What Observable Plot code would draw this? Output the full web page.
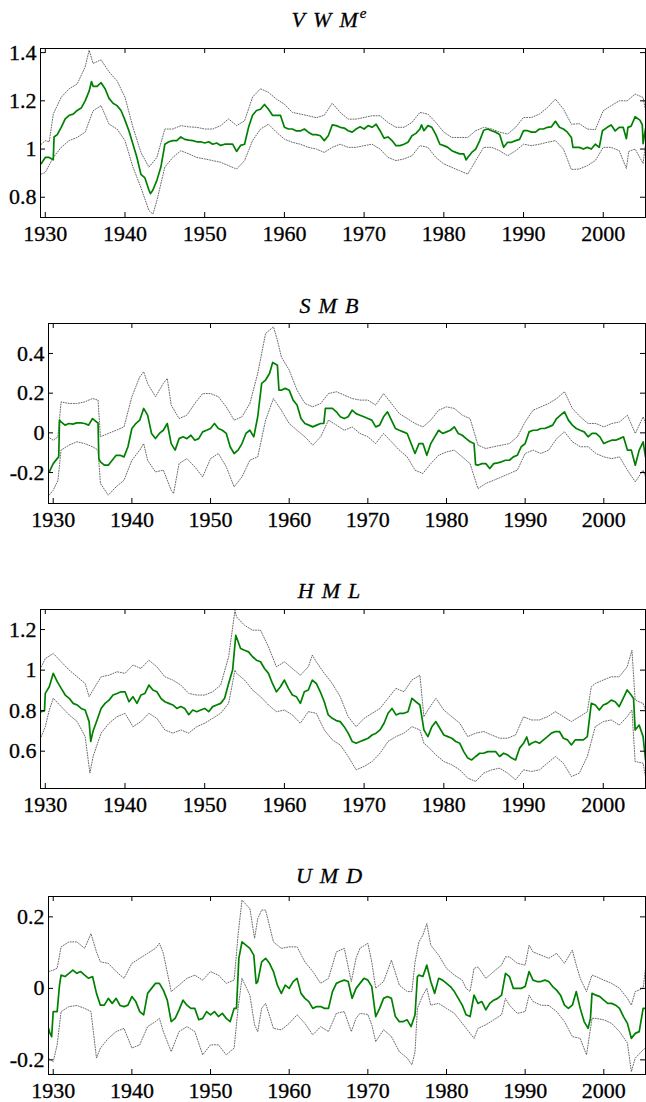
<!DOCTYPE html>
<html>
<head>
<meta charset="utf-8">
<script src="https://cdn.jsdelivr.net/npm/d3@7"></script>
<script src="https://cdn.jsdelivr.net/npm/@observablehq/plot@0.6"></script>
<style>
  html, body { margin: 0; padding: 0; background: #fff; }
  #chart svg { display: block; overflow: visible; }
  #chart svg text { font-family: "Liberation Serif", "Times New Roman", "DejaVu Serif", serif !important; stroke: #000; stroke-width: 0.3px; }
</style>
</head>
<body>
<div id="chart"></div>
<script>
// ---------- data ----------
const xTicks = [1930, 1940, 1950, 1960, 1970, 1980, 1990, 2000];
const titles = ["VWM", "SMB", "HML", "UMD"];
const titleSups = ["e", "", "", ""];
const vwmTicks = [0.8, 1, 1.2, 1.4];
const smbTicks = [-0.2, 0, 0.2, 0.4];
const hmlTicks = [0.6, 0.8, 1, 1.2];
const umdTicks = [-0.2, 0, 0.2];

const vwmLine = [[1929.5,0.94],[1930,0.965],[1930.5,0.965],[1931,0.955],[1931.1,1.05],[1931.5,1.06],[1932,1.09],[1932.5,1.125],[1933,1.14],[1933.5,1.145],[1934,1.16],[1934.5,1.17],[1935,1.2],[1935.5,1.24],[1935.8,1.28],[1936,1.26],[1936.5,1.26],[1937,1.275],[1937.5,1.25],[1938,1.21],[1938.5,1.19],[1939,1.18],[1939.5,1.16],[1940,1.12],[1940.5,1.075],[1941,1.02],[1941.5,0.965],[1942,0.895],[1942.5,0.88],[1943,0.83],[1943.2,0.815],[1943.5,0.83],[1944,0.87],[1944.5,0.925],[1944.9,1.0],[1945,1.02],[1945.5,1.03],[1946,1.035],[1946.5,1.035],[1947,1.05],[1947.5,1.04],[1948,1.037],[1948.5,1.035],[1949,1.03],[1949.5,1.03],[1950,1.025],[1950.5,1.03],[1951,1.02],[1951.5,1.025],[1952,1.015],[1952.5,1.02],[1953,1.02],[1953.5,1.02],[1954,0.99],[1954.5,1.015],[1955,1.02],[1955.5,1.09],[1956,1.14],[1956.5,1.16],[1957,1.165],[1957.5,1.185],[1958,1.165],[1958.5,1.14],[1959,1.14],[1959.5,1.14],[1960,1.09],[1960.5,1.083],[1961,1.083],[1961.5,1.075],[1962,1.075],[1962.5,1.083],[1963,1.07],[1963.5,1.06],[1964,1.06],[1964.5,1.055],[1965,1.035],[1965.5,1.055],[1966,1.1],[1966.5,1.097],[1967,1.09],[1967.5,1.087],[1968,1.076],[1968.5,1.07],[1969,1.083],[1969.5,1.092],[1970,1.083],[1970.5,1.097],[1971,1.09],[1971.5,1.103],[1972,1.076],[1972.5,1.045],[1973,1.05],[1973.5,1.035],[1974,1.014],[1974.5,1.014],[1975,1.02],[1975.5,1.028],[1976,1.055],[1976.5,1.065],[1977,1.083],[1977.2,1.1],[1977.5,1.076],[1978,1.097],[1978.5,1.09],[1979,1.06],[1979.5,1.02],[1980,1.014],[1980.5,1.007],[1981,0.993],[1981.5,0.986],[1982,0.98],[1982.5,0.98],[1982.8,0.955],[1983,0.965],[1983.5,0.986],[1984,1.0],[1984.5,1.035],[1985,1.078],[1985.5,1.083],[1986,1.076],[1986.5,1.07],[1987,1.06],[1987.5,1.007],[1988,1.028],[1988.5,1.028],[1989,1.035],[1989.5,1.04],[1990,1.076],[1990.5,1.076],[1991,1.07],[1991.5,1.07],[1992,1.083],[1992.5,1.083],[1993,1.09],[1993.5,1.092],[1994,1.115],[1994.5,1.09],[1995,1.083],[1995.5,1.07],[1996,1.048],[1996.2,1.007],[1996.5,1.007],[1997,1.007],[1997.5,1.0],[1998,1.007],[1998.5,1.0],[1999,1.02],[1999.5,1.007],[1999.9,1.076],[2000.5,1.09],[2001,1.1],[2001.5,1.075],[2002,1.09],[2002.5,1.09],[2002.9,1.043],[2003.1,1.09],[2003.5,1.095],[2004,1.134],[2004.6,1.12],[2004.9,1.1],[2005,1.022],[2005.3,1.084]];
const vwmUpper = [[1929.5,1.02],[1930,1.035],[1930.5,1.03],[1931,1.145],[1932,1.215],[1933,1.25],[1934,1.27],[1935,1.34],[1935.5,1.41],[1936,1.355],[1937,1.37],[1938,1.32],[1939,1.283],[1940,1.215],[1941,1.09],[1942,0.986],[1943,0.925],[1944,0.965],[1945,1.083],[1946,1.083],[1947,1.097],[1948,1.092],[1949,1.09],[1950,1.083],[1951,1.083],[1952,1.097],[1953,1.125],[1954,1.097],[1955,1.117],[1956,1.215],[1957,1.25],[1958,1.235],[1959,1.207],[1960,1.186],[1961,1.152],[1962,1.145],[1963,1.138],[1964,1.13],[1965,1.14],[1966,1.19],[1967,1.152],[1968,1.124],[1969,1.124],[1970,1.131],[1971,1.138],[1972,1.138],[1973,1.11],[1974,1.09],[1975,1.09],[1976,1.11],[1977,1.152],[1978,1.145],[1979,1.11],[1980,1.07],[1981,1.048],[1982,1.048],[1983,1.048],[1984,1.076],[1985,1.09],[1986,1.083],[1987,1.07],[1988,1.062],[1989,1.09],[1990,1.131],[1991,1.131],[1992,1.145],[1993,1.172],[1994,1.207],[1995,1.166],[1996,1.103],[1997,1.105],[1998,1.083],[1999,1.08],[2000,1.159],[2001,1.18],[2002,1.2],[2003,1.2],[2004,1.228],[2005,1.214],[2005.3,1.16]];
const vwmLower = [[1929.5,0.896],[1930,0.903],[1931,0.965],[1932,1.007],[1933,1.035],[1934,1.048],[1935,1.07],[1936,1.159],[1937,1.18],[1938,1.103],[1939,1.083],[1940,1.035],[1941,0.925],[1942,0.84],[1943,0.745],[1943.5,0.73],[1944,0.786],[1945,0.925],[1946,0.965],[1947,0.993],[1948,0.98],[1949,0.965],[1950,0.959],[1951,0.952],[1952,0.945],[1953,0.931],[1954,0.917],[1955,0.952],[1956,1.035],[1957,1.083],[1958,1.103],[1959,1.07],[1960,1.041],[1961,1.028],[1962,1.02],[1963,1.007],[1964,1.0],[1965,0.986],[1966,1.007],[1967,1.02],[1968,1.007],[1969,1.007],[1970,1.014],[1971,1.02],[1972,1.0],[1973,0.965],[1974,0.952],[1975,0.959],[1976,0.972],[1977,1.014],[1978,1.007],[1979,0.965],[1980,0.938],[1981,0.924],[1982,0.91],[1983,0.896],[1984,0.952],[1985,1.007],[1986,1.007],[1987,0.993],[1988,0.972],[1989,0.993],[1990,1.02],[1991,1.014],[1992,1.02],[1993,1.028],[1994,1.035],[1995,1.0],[1996,0.915],[1997,0.917],[1998,0.931],[1999,0.952],[2000,1.007],[2001,1.007],[2002,0.993],[2002.9,0.92],[2003.2,0.99],[2004,1.0],[2005,0.94],[2005.3,1.02]];

const smbLine = [[1929.3,-0.197],[1929.5,-0.197],[1930,-0.155],[1930.5,-0.13],[1930.7,-0.12],[1930.8,0.064],[1931,0.055],[1931.5,0.039],[1932,0.047],[1932.5,0.044],[1933,0.05],[1933.5,0.05],[1934,0.047],[1934.5,0.039],[1935,0.072],[1935.5,0.055],[1935.7,0.05],[1935.8,-0.13],[1936,-0.146],[1936.5,-0.163],[1937,-0.163],[1937.5,-0.138],[1938,-0.113],[1938.5,-0.113],[1939,-0.121],[1939.5,-0.07],[1940,0.022],[1940.5,0.047],[1941,0.064],[1941.5,0.123],[1942,0.089],[1942.5,-0.003],[1943,-0.029],[1943.5,-0.003],[1944,0.013],[1944.5,0.047],[1945,-0.054],[1945.5,-0.087],[1946,-0.029],[1946.5,-0.02],[1947,-0.029],[1947.5,-0.012],[1948,-0.037],[1948.5,-0.029],[1949,0.005],[1949.5,0.013],[1950,0.022],[1950.5,0.047],[1951,0.022],[1951.5,0.013],[1952,-0.003],[1952.5,-0.07],[1953,-0.104],[1953.5,-0.087],[1954,-0.054],[1954.5,-0.003],[1955,0.013],[1955.5,-0.02],[1956,0.081],[1956.5,0.249],[1957,0.266],[1957.5,0.299],[1957.9,0.355],[1958.5,0.341],[1958.7,0.215],[1959,0.215],[1959.5,0.224],[1960,0.215],[1960.5,0.165],[1961,0.14],[1961.5,0.072],[1962,0.047],[1962.5,0.039],[1963,0.03],[1963.5,0.039],[1964,0.047],[1964.4,0.047],[1964.6,0.123],[1965,0.123],[1965.5,0.123],[1966,0.106],[1966.5,0.081],[1967,0.072],[1967.5,0.081],[1968,0.114],[1968.5,0.097],[1969,0.089],[1969.5,0.081],[1970,0.072],[1970.5,0.064],[1971,0.03],[1971.5,0.039],[1972,0.081],[1972.5,0.106],[1973,0.064],[1973.5,0.022],[1974,0.013],[1974.5,0.005],[1975,-0.003],[1975.5,-0.054],[1976,-0.104],[1976.5,-0.054],[1977,-0.054],[1977.5,-0.113],[1978,-0.054],[1978.5,-0.02],[1979,0.013],[1979.5,-0.003],[1980,0.005],[1980.5,0.013],[1981,0.03],[1981.5,-0.003],[1982,-0.012],[1982.5,-0.029],[1983,-0.045],[1983.5,-0.054],[1983.7,-0.16],[1984,-0.163],[1984.5,-0.155],[1985,-0.155],[1985.5,-0.18],[1986,-0.155],[1986.5,-0.151],[1987,-0.146],[1987.5,-0.138],[1988,-0.138],[1988.5,-0.121],[1989,-0.113],[1989.5,-0.07],[1990,-0.054],[1990.5,0.005],[1991,0.013],[1991.5,0.013],[1992,0.022],[1992.5,0.022],[1993,0.03],[1993.5,0.039],[1994,0.072],[1994.5,0.089],[1995,0.106],[1995.5,0.064],[1996,0.039],[1996.5,0.022],[1997,0.013],[1997.5,0.005],[1998,-0.02],[1998.5,-0.003],[1999,-0.003],[1999.5,-0.02],[2000,-0.054],[2000.5,-0.045],[2001,-0.037],[2001.5,-0.037],[2002,-0.029],[2002.5,-0.02],[2003,-0.087],[2003.5,-0.087],[2004,-0.163],[2004.5,-0.087],[2005,-0.045],[2005.3,-0.121]];
const smbUpper = [[1929.3,-0.02],[1930,-0.037],[1930.6,-0.02],[1931,0.156],[1932,0.148],[1933,0.148],[1934,0.156],[1935,0.173],[1935.7,0.165],[1936,-0.02],[1937,-0.003],[1938,0.013],[1939,0.03],[1940,0.182],[1941,0.282],[1941.5,0.308],[1942,0.249],[1943,0.182],[1944,0.249],[1944.5,0.274],[1945,0.14],[1946,0.072],[1947,0.089],[1948,0.148],[1949,0.198],[1950,0.198],[1951,0.182],[1952,0.131],[1953,0.064],[1954,0.081],[1955,0.148],[1956,0.299],[1957,0.501],[1958,0.534],[1958.5,0.467],[1959,0.383],[1960,0.316],[1961,0.215],[1962,0.148],[1963,0.131],[1964,0.148],[1965,0.198],[1966,0.207],[1967,0.19],[1968,0.173],[1969,0.165],[1970,0.165],[1971,0.14],[1972,0.198],[1973,0.148],[1974,0.097],[1975,0.072],[1976,0.047],[1977,0.03],[1978,0.064],[1979,0.114],[1980,0.131],[1981,0.123],[1982,0.089],[1983,0.072],[1984,-0.062],[1985,-0.079],[1986,-0.07],[1987,-0.062],[1988,-0.054],[1989,-0.02],[1990,0.055],[1991,0.114],[1992,0.131],[1993,0.148],[1994,0.173],[1995,0.207],[1996,0.123],[1997,0.081],[1998,0.047],[1999,0.047],[2000,0.03],[2001,0.047],[2002,0.055],[2003,0.089],[2004,-0.003],[2005,0.081],[2005.3,0.047]];
const smbLower = [[1929.3,-0.323],[1930,-0.289],[1930.6,-0.239],[1931,-0.087],[1932,-0.062],[1933,-0.045],[1934,-0.054],[1935,-0.07],[1935.7,-0.087],[1936,-0.255],[1937,-0.314],[1938,-0.272],[1939,-0.239],[1940,-0.138],[1941,-0.087],[1941.5,-0.054],[1942,-0.138],[1943,-0.197],[1944,-0.188],[1945,-0.289],[1945.3,-0.306],[1946,-0.155],[1947,-0.13],[1948,-0.171],[1949,-0.222],[1950,-0.13],[1951,-0.104],[1952,-0.171],[1953,-0.272],[1954,-0.222],[1955,-0.138],[1956,-0.121],[1957,0.064],[1958,0.173],[1959,0.114],[1960,0.047],[1961,0.013],[1962,-0.02],[1963,-0.062],[1964,-0.02],[1965,0.064],[1966,0.039],[1967,0.013],[1968,0.03],[1969,-0.003],[1970,-0.02],[1971,-0.054],[1972,-0.003],[1973,-0.045],[1974,-0.087],[1975,-0.121],[1976,-0.188],[1977,-0.205],[1978,-0.155],[1979,-0.113],[1980,-0.096],[1981,-0.087],[1982,-0.121],[1983,-0.155],[1984,-0.281],[1985,-0.255],[1986,-0.239],[1987,-0.222],[1988,-0.205],[1989,-0.188],[1990,-0.104],[1991,-0.087],[1992,-0.104],[1993,-0.087],[1994,-0.029],[1995,0.005],[1996,-0.045],[1997,-0.07],[1998,-0.07],[1999,-0.104],[2000,-0.121],[2001,-0.13],[2002,-0.121],[2003,-0.188],[2004,-0.247],[2005,-0.188],[2005.3,-0.222]];

const hmlLine = [[1929.5,0.795],[1929.9,0.8],[1930,0.885],[1930.5,0.918],[1931,0.984],[1931.5,0.943],[1932,0.91],[1932.5,0.877],[1933,0.861],[1933.5,0.836],[1934,0.828],[1934.5,0.811],[1935,0.803],[1935.5,0.746],[1935.7,0.648],[1936,0.7],[1936.5,0.754],[1937,0.811],[1937.5,0.836],[1938,0.852],[1938.5,0.877],[1939,0.885],[1939.5,0.893],[1940,0.893],[1940.5,0.844],[1941,0.869],[1941.5,0.836],[1942,0.877],[1942.5,0.885],[1943,0.926],[1943.5,0.902],[1944,0.893],[1944.5,0.861],[1945,0.844],[1945.5,0.836],[1946,0.828],[1946.5,0.811],[1947,0.82],[1947.5,0.811],[1948,0.78],[1948.5,0.803],[1949,0.795],[1949.5,0.803],[1950,0.811],[1950.5,0.795],[1951,0.82],[1951.5,0.828],[1952,0.836],[1952.5,0.861],[1953,0.934],[1953.5,1.0],[1953.9,1.172],[1954.5,1.107],[1955,1.098],[1955.5,1.09],[1956,1.066],[1956.5,1.049],[1957,1.041],[1957.5,1.008],[1958,0.984],[1958.5,0.934],[1959,0.893],[1959.5,0.918],[1960,0.951],[1960.5,0.91],[1961,0.877],[1961.5,0.869],[1962,0.836],[1962.5,0.893],[1963,0.902],[1963.5,0.951],[1964,0.934],[1964.5,0.893],[1965,0.844],[1965.5,0.779],[1966,0.762],[1966.5,0.751],[1967,0.746],[1967.5,0.721],[1968,0.689],[1968.5,0.648],[1969,0.639],[1969.5,0.648],[1970,0.656],[1970.5,0.664],[1971,0.68],[1971.5,0.689],[1972,0.705],[1972.5,0.738],[1973,0.787],[1973.5,0.811],[1974,0.779],[1974.5,0.787],[1975,0.787],[1975.5,0.795],[1976,0.861],[1976.5,0.844],[1977,0.828],[1977.5,0.705],[1978,0.672],[1978.5,0.721],[1979,0.746],[1979.5,0.713],[1980,0.68],[1980.5,0.672],[1981,0.664],[1981.5,0.648],[1982,0.639],[1982.5,0.598],[1983,0.566],[1983.5,0.557],[1984,0.574],[1984.5,0.59],[1985,0.59],[1985.5,0.598],[1986,0.598],[1986.5,0.598],[1987,0.574],[1987.5,0.59],[1988,0.582],[1988.5,0.566],[1989,0.557],[1989.5,0.615],[1990,0.639],[1990.4,0.67],[1990.7,0.63],[1991,0.639],[1991.5,0.648],[1992,0.639],[1992.5,0.656],[1993,0.672],[1993.5,0.689],[1994,0.697],[1994.5,0.697],[1995,0.664],[1995.5,0.656],[1996,0.631],[1996.5,0.656],[1997,0.656],[1997.5,0.656],[1998,0.672],[1998.5,0.836],[1999,0.828],[1999.5,0.803],[2000,0.828],[2000.5,0.836],[2001,0.852],[2001.5,0.844],[2002,0.82],[2002.5,0.861],[2003,0.902],[2003.5,0.877],[2003.8,0.86],[2004,0.705],[2004.5,0.729],[2005,0.672],[2005.3,0.557]];
const hmlUpper = [[1929.5,1.016],[1930,1.057],[1931,1.082],[1932,1.041],[1933,1.0],[1934,0.967],[1935,0.934],[1935.5,0.869],[1936,0.902],[1937,0.967],[1938,0.975],[1939,0.992],[1940,0.984],[1941,1.025],[1942,1.008],[1943,1.049],[1944,1.016],[1945,0.967],[1946,0.951],[1947,0.926],[1948,0.885],[1949,0.877],[1950,0.877],[1951,0.893],[1952,0.926],[1953,1.066],[1953.8,1.295],[1954,1.262],[1955,1.221],[1956,1.197],[1957,1.197],[1958,1.115],[1959,1.016],[1960,1.041],[1961,1.008],[1962,0.975],[1963,1.016],[1963.5,1.074],[1964,1.041],[1965,0.984],[1966,0.934],[1967,0.869],[1968,0.77],[1969,0.721],[1970,0.762],[1971,0.787],[1972,0.811],[1973,0.861],[1974,0.91],[1975,0.893],[1976,0.951],[1977,0.975],[1977.5,0.77],[1978,0.803],[1979,0.861],[1980,0.803],[1981,0.77],[1982,0.738],[1983,0.672],[1984,0.689],[1985,0.697],[1986,0.68],[1987,0.664],[1988,0.664],[1989,0.68],[1990,0.77],[1991,0.754],[1992,0.754],[1993,0.77],[1994,0.795],[1995,0.77],[1996,0.746],[1997,0.77],[1998,0.795],[1998.5,0.918],[1999,0.934],[2000,0.951],[2001,0.967],[2002,0.967],[2003,1.016],[2003.6,1.098],[2004,0.852],[2005,0.836],[2005.3,0.803]];
const hmlLower = [[1929.5,0.672],[1930,0.721],[1930.5,0.803],[1931,0.861],[1932,0.82],[1933,0.779],[1934,0.746],[1935,0.672],[1935.6,0.492],[1936,0.574],[1937,0.689],[1938,0.738],[1939,0.77],[1940,0.787],[1941,0.721],[1942,0.746],[1943,0.787],[1944,0.762],[1945,0.705],[1946,0.689],[1947,0.705],[1948,0.689],[1949,0.721],[1950,0.738],[1951,0.762],[1952,0.787],[1953,0.836],[1953.8,1.0],[1954,0.984],[1955,0.951],[1956,0.902],[1957,0.869],[1958,0.828],[1959,0.795],[1960,0.803],[1961,0.779],[1962,0.738],[1963,0.795],[1964,0.787],[1965,0.705],[1966,0.656],[1967,0.631],[1968,0.574],[1969,0.508],[1970,0.525],[1971,0.549],[1972,0.59],[1973,0.648],[1974,0.672],[1975,0.689],[1976,0.721],[1977,0.705],[1977.5,0.639],[1978,0.623],[1979,0.582],[1980,0.549],[1981,0.533],[1982,0.508],[1983,0.467],[1984,0.451],[1985,0.492],[1986,0.508],[1987,0.516],[1988,0.492],[1989,0.459],[1990,0.508],[1991,0.5],[1992,0.508],[1993,0.541],[1994,0.574],[1995,0.541],[1996,0.475],[1997,0.492],[1998,0.574],[1999,0.721],[2000,0.746],[2001,0.754],[2002,0.729],[2003,0.77],[2003.6,0.803],[2004,0.549],[2005,0.541],[2005.3,0.475]];

const umdLine = [[1929.4,-0.112],[1929.6,-0.126],[1929.8,-0.135],[1930,-0.065],[1930.5,-0.065],[1930.8,0.009],[1931,0.037],[1931.5,0.033],[1932,0.042],[1932.5,0.051],[1933,0.042],[1933.5,0.047],[1934,0.037],[1934.5,0.028],[1935,0.033],[1935.5,-0.014],[1936,-0.047],[1936.5,-0.047],[1937,-0.028],[1937.5,-0.042],[1938,-0.028],[1938.5,-0.048],[1939,-0.051],[1939.5,-0.047],[1940,-0.023],[1940.5,-0.037],[1941,-0.065],[1941.5,-0.074],[1942,-0.014],[1942.5,0],[1943,0.014],[1943.5,0.014],[1944,-0.005],[1944.5,-0.033],[1945,-0.093],[1945.5,-0.084],[1946,-0.06],[1946.5,-0.033],[1947,-0.047],[1947.5,-0.056],[1948,-0.056],[1948.5,-0.088],[1949,-0.084],[1949.5,-0.065],[1950,-0.074],[1950.5,-0.065],[1951,-0.079],[1951.5,-0.07],[1952,-0.084],[1952.5,-0.093],[1953,-0.056],[1953.3,-0.056],[1953.6,0.084],[1954,0.13],[1954.5,0.121],[1955,0.112],[1955.5,0.093],[1955.8,0.014],[1956,0.019],[1956.5,0.074],[1957,0.084],[1957.5,0.07],[1958,0.047],[1958.5,0.009],[1959,-0.014],[1959.5,0.009],[1960,0],[1960.5,0.019],[1961,0.028],[1961.5,-0.014],[1962,-0.028],[1962.5,-0.037],[1963,-0.056],[1963.5,-0.051],[1964,-0.051],[1964.5,-0.056],[1965,-0.056],[1965.5,-0.009],[1966,0.014],[1966.5,0.019],[1967,0.023],[1967.5,0.019],[1968,-0.028],[1968.5,0],[1969,0.014],[1969.5,0.028],[1970,0.023],[1970.5,0.005],[1971,-0.079],[1971.5,-0.056],[1972,-0.028],[1972.5,-0.023],[1973,-0.028],[1973.5,-0.079],[1974,-0.093],[1974.5,-0.093],[1975,-0.088],[1975.5,-0.107],[1976,-0.074],[1976.3,0.033],[1976.5,0.037],[1977,0.033],[1977.5,0.065],[1978,0.019],[1978.5,-0.014],[1979,0.028],[1979.5,0.023],[1980,0.014],[1980.5,0.005],[1981,-0.009],[1981.5,-0.028],[1982,-0.047],[1982.5,-0.074],[1983,-0.079],[1983.5,-0.019],[1984,-0.042],[1984.5,-0.037],[1985,-0.06],[1985.5,-0.042],[1986,-0.033],[1986.5,-0.028],[1987,-0.019],[1987.5,0.042],[1988,0.033],[1988.5,0],[1989,0],[1989.5,0],[1990,0.005],[1990.5,0.047],[1991,0.023],[1991.5,0.019],[1992,0.019],[1992.5,0.023],[1993,0.019],[1993.5,0.005],[1994,-0.005],[1994.5,-0.019],[1995,-0.047],[1995.5,-0.056],[1996,-0.047],[1996.5,-0.009],[1997,-0.056],[1997.5,-0.093],[1998,-0.112],[1998.3,-0.084],[1998.5,-0.014],[1999,-0.019],[1999.5,-0.023],[2000,-0.033],[2000.5,-0.042],[2001,-0.042],[2001.5,-0.047],[2002,-0.056],[2002.5,-0.079],[2003,-0.098],[2003.5,-0.14],[2004,-0.126],[2004.5,-0.121],[2005,-0.056],[2005.3,-0.056]];
const umdUpper = [[1929.4,0.047],[1930,0.051],[1930.5,0.056],[1931,0.116],[1932,0.13],[1933,0.13],[1934,0.112],[1934.8,0.153],[1935.5,0.102],[1936,0.074],[1937,0.07],[1938,0.047],[1939,0.028],[1940,0.07],[1941,0.084],[1942,0.098],[1943,0.112],[1943.5,0.126],[1944,0.098],[1945,-0.009],[1946,0.009],[1947,0.028],[1948,0.037],[1949,0.023],[1950,0.047],[1951,0.037],[1952,0.014],[1953,0.023],[1953.5,0.149],[1954,0.247],[1955,0.223],[1955.6,0.14],[1956,0.195],[1956.5,0.219],[1957,0.219],[1958,0.13],[1959,0.112],[1960,0.116],[1961,0.116],[1962,0.074],[1963,0.047],[1964,0.014],[1965,0.028],[1966,0.102],[1967,0.112],[1967.9,0.019],[1968.5,0.084],[1969,0.112],[1970,0.126],[1970.5,0.074],[1971,0],[1972,0.019],[1973,0.079],[1974,0.009],[1975,-0.009],[1975.6,-0.009],[1976,0.074],[1976.5,0.13],[1977,0.149],[1977.5,0.181],[1978,0.121],[1979,0.093],[1980,0.056],[1981,0.037],[1982,0.023],[1982.5,0],[1983,-0.009],[1983.5,0.056],[1984,0.06],[1985,0.028],[1986,0.047],[1987,0.065],[1987.5,0.088],[1988,0.088],[1989,0.07],[1990,0.065],[1990.5,0.121],[1991,0.102],[1992,0.093],[1993,0.084],[1994,0.098],[1995,0.07],[1996,0.107],[1996.5,0.065],[1997,0.028],[1997.8,-0.009],[1998.5,0.037],[1999,0.033],[2000,0.023],[2001,0.014],[2002,0],[2003,-0.028],[2003.5,-0.047],[2004,-0.009],[2005,0],[2005.3,0.056]];
const umdLower = [[1929.4,-0.195],[1930,-0.205],[1930.5,-0.158],[1931,-0.065],[1932,-0.051],[1933,-0.048],[1934,-0.056],[1934.8,-0.065],[1935.5,-0.195],[1936,-0.167],[1937,-0.14],[1938,-0.121],[1939,-0.112],[1940,-0.167],[1941,-0.158],[1942,-0.107],[1943,-0.093],[1943.5,-0.084],[1944,-0.121],[1945,-0.177],[1946,-0.121],[1947,-0.107],[1948,-0.121],[1949,-0.186],[1950,-0.158],[1951,-0.158],[1952,-0.186],[1953,-0.167],[1953.5,-0.056],[1954,0.028],[1955,-0.019],[1955.6,-0.102],[1956,-0.121],[1956.5,-0.056],[1957,-0.042],[1958,-0.112],[1959,-0.116],[1960,-0.098],[1961,-0.074],[1962,-0.098],[1963,-0.13],[1964,-0.107],[1965,-0.121],[1966,-0.07],[1967,-0.065],[1967.9,-0.121],[1968.5,-0.084],[1969,-0.07],[1970,-0.073],[1970.5,-0.102],[1971,-0.149],[1972,-0.116],[1973,-0.135],[1974,-0.177],[1975,-0.195],[1975.6,-0.214],[1976,-0.177],[1976.3,-0.056],[1977,-0.019],[1977.5,0],[1978,-0.047],[1979,-0.042],[1980,-0.056],[1981,-0.07],[1982,-0.098],[1983,-0.126],[1983.5,-0.14],[1984,-0.112],[1985,-0.102],[1986,-0.088],[1987,-0.074],[1987.5,-0.028],[1988,-0.047],[1989,-0.07],[1990,-0.065],[1990.5,-0.019],[1991,-0.037],[1992,-0.047],[1993,-0.048],[1994,-0.065],[1995,-0.093],[1996,-0.135],[1997,-0.14],[1997.8,-0.186],[1998.5,-0.084],[1999,-0.084],[2000,-0.088],[2001,-0.098],[2002,-0.121],[2003,-0.153],[2003.5,-0.233],[2004,-0.195],[2005,-0.172],[2005.3,-0.167]];

// ---------- layout (sizes / positions) ----------
const W = 646;
const xDomain = [1929.4, 2005.3];
const panels = [
  {title: 0, line: vwmLine, upper: vwmUpper, lower: vwmLower, yTicks: vwmTicks, yDomain: [0.716, 1.417], height: 290, mt: 48, mb: 73, ml: 40, titleY: 27},
  {title: 1, line: smbLine, upper: smbUpper, lower: smbLower, yTicks: smbTicks, yDomain: [-0.356, 0.551], height: 280, mt: 33, mb: 67, ml: 48, titleY: 23},
  {title: 2, line: hmlLine, upper: hmlUpper, lower: hmlLower, yTicks: hmlTicks, yDomain: [0.416, 1.299], height: 280, mt: 39, mb: 62, ml: 40, titleY: 28},
  {title: 3, line: umdLine, upper: umdUpper, lower: umdLower, yTicks: umdTicks, yDomain: [-0.241, 0.257], height: 252, mt: 46, mb: 28, ml: 48, titleY: 33}
];
const MR = 1;
const TICK = 5;
const serif = "Liberation Serif";
const green = "#008000";
const dotted = {stroke: "#444", strokeWidth: 0.8, strokeDasharray: "1,1.6"};

const root = document.getElementById("chart");
for (const p of panels) {
  const plotH = p.height - p.mt - p.mb;
  const plotW = W - p.ml - MR;
  const svg = Plot.plot({
    width: W, height: p.height,
    marginTop: p.mt, marginBottom: p.mb, marginLeft: p.ml, marginRight: MR,
    x: {domain: xDomain},
    y: {domain: p.yDomain},
    style: {fontFamily: serif, fontSize: "22px", background: "#fff", color: "#000"},
    marks: [
      Plot.line(p.upper, {x: d => d[0], y: d => d[1], ...dotted, clip: true}),
      Plot.line(p.lower, {x: d => d[0], y: d => d[1], ...dotted, clip: true}),
      Plot.line(p.line, {x: d => d[0], y: d => d[1], stroke: green, strokeWidth: 1.7, clip: true}),
      Plot.frame({stroke: "#000", strokeWidth: 1}),
      Plot.tickX(xTicks, {x: d => d, stroke: "#000", insetTop: plotH - TICK}),
      Plot.tickX(xTicks, {x: d => d, stroke: "#000", insetBottom: plotH - TICK}),
      Plot.tickY(p.yTicks, {y: d => d, stroke: "#000", insetRight: plotW - TICK}),
      Plot.tickY(p.yTicks, {y: d => d, stroke: "#000", insetLeft: plotW - TICK}),
      Plot.axisX({ticks: xTicks, tickSize: 0, tickPadding: 8, tickFormat: d => String(d), fontSize: 22, fontFamily: serif, label: null}),
      Plot.axisY({ticks: p.yTicks, tickSize: 0, tickPadding: 4, tickFormat: d => String(d), fontSize: 22, fontFamily: serif, label: null})
    ]
  });
  // Title: italic math letters with spacing, optional superscript
  const t = d3.select(svg).append("text")
    .attr("x", 329).attr("y", p.titleY)
    .attr("text-anchor", "middle")
    .attr("font-family", serif)
    .attr("font-style", "italic")
    .attr("font-size", 22)
    .attr("fill", "#000");
  const letters = titles[p.title].split("");
  letters.forEach((ch, i) => {
    t.append("tspan").attr("dx", i === 0 ? 0 : 8).text(ch);
  });
  const sup = titleSups[p.title];
  if (sup) {
    t.append("tspan").attr("dx", 2).attr("dy", -9).attr("font-size", 15).text(sup);
  }
  root.appendChild(svg);
}
</script>
</body>
</html>
